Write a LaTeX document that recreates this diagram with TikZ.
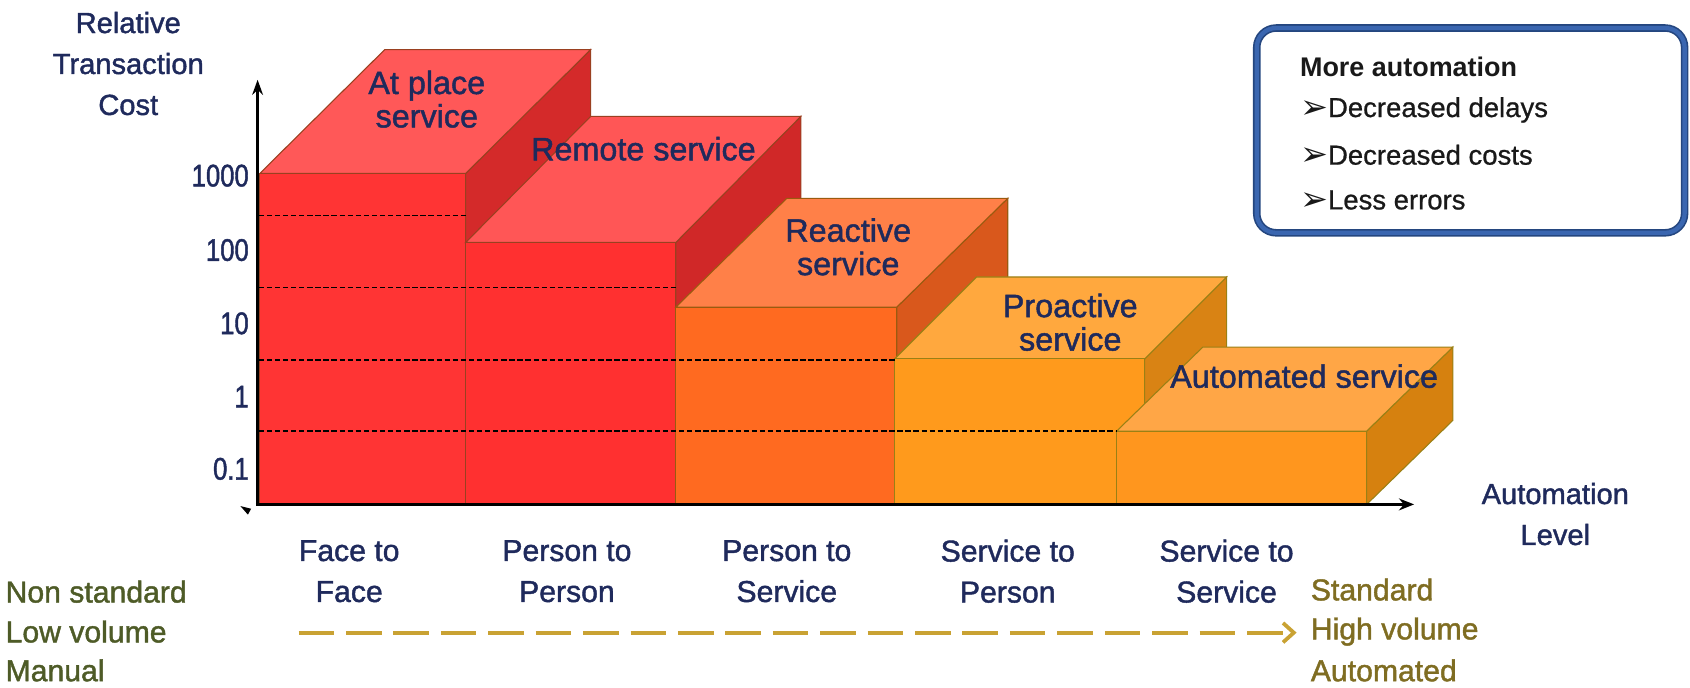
\documentclass[tikz,border=0pt]{standalone}
\usepackage{fontspec}
\setmainfont{Liberation Sans}
\newfontfamily\djv{DejaVu Sans}
\newfontfamily\labfont{Liberation Sans}[FakeBold=1.4]
\newfontfamily\tickfont{Liberation Sans}[FakeStretch=0.82,FakeBold=1.4]
\newfontfamily\legfont{Liberation Sans}[FakeBold=0.8]
\usetikzlibrary{arrows.meta}
\definecolor{navy}{HTML}{1F2A5C}
\definecolor{olivel}{HTML}{4E5B27}
\definecolor{oliver}{HTML}{7F6D22}
\definecolor{goldarr}{HTML}{C9A233}
\definecolor{legblue}{HTML}{3A66B0}
\definecolor{legdark}{HTML}{24467F}
\definecolor{fA}{HTML}{FF3434}\definecolor{tA}{HTML}{FF5858}\definecolor{sA}{HTML}{D42A2A}\definecolor{eA}{HTML}{9A4020}
\definecolor{fB}{HTML}{FF3030}\definecolor{tB}{HTML}{FF5656}\definecolor{sB}{HTML}{D02828}
\definecolor{fC}{HTML}{FF6A20}\definecolor{tC}{HTML}{FF8048}\definecolor{sC}{HTML}{D9581C}\definecolor{eC}{HTML}{9A5A10}
\definecolor{fD}{HTML}{FF9A1C}\definecolor{tD}{HTML}{FFA83E}\definecolor{sD}{HTML}{D98314}\definecolor{eD}{HTML}{9A8015}
\definecolor{fE}{HTML}{FF961E}\definecolor{tE}{HTML}{FFA646}\definecolor{sE}{HTML}{D6810F}
\newcommand\blk[9]{%
  \filldraw[fill=#8, draw=#9, line width=1] (#2,170) -- (#2,#3) -- ({#2+#4},{#3+#5}) -- ({#2+#4},{170+#5}) -- cycle;
  \filldraw[fill=#7, draw=#9, line width=1] (#1,#3) -- (#2,#3) -- ({#2+#4},{#3+#5}) -- ({#1+#4},{#3+#5}) -- cycle;
  \filldraw[fill=#6, draw=#9, line width=1] (#1,170) rectangle (#2,#3);
}
\tikzset{
  blabel/.style={text=navy, font=\labfont\fontsize{30}{31}\selectfont, align=center, inner sep=0},
  catlabel/.style={text=navy, font=\labfont\fontsize{28}{38}\selectfont, align=center, inner sep=0},
  axlabel/.style={text=navy, font=\labfont\fontsize{27}{38}\selectfont, align=center, inner sep=0},
  ticklabel/.style={text=navy, font=\tickfont\fontsize{29}{30}\selectfont, anchor=east, inner sep=0},
  leftlabel/.style={text=olivel, font=\labfont\fontsize{28}{30}\selectfont, anchor=west, inner sep=0},
  rightlabel/.style={text=oliver, font=\labfont\fontsize{28}{30}\selectfont, anchor=west, inner sep=0},
  legtext/.style={text=black!90, font=\legfont\fontsize{25.5}{28}\selectfont, anchor=west, inner sep=0},
  gridline/.style={black, line width=1.3, dash pattern=on 5 off 2.5},
}
\begin{document}
\begin{tikzpicture}[x=1pt,y=1pt]
\useasboundingbox (0,0) rectangle (1568,638);
% blocks
\blk{241}{432}{477}{116}{115}{fA}{tA}{sA}{eA}
\blk{432}{627}{413}{116}{117}{fB}{tB}{sB}{eA}
\blk{627}{832}{353}{103}{101}{fC}{tC}{sC}{eC}
\blk{830}{1062}{305}{76}{76}{fD}{tD}{sD}{eD}
\blk{1036}{1268}{238}{80}{78}{fE}{tE}{sE}{eD}
% dashed grid lines
\draw[gridline] (240,438) -- (432,438);
\draw[gridline] (240,371) -- (627,371);
\draw[gridline] (240,304) -- (830,304);
\draw[gridline] (240,238) -- (1036,238);
% axes
\coordinate (o) at (239,170);
\coordinate (ytip) at (239,564);
\coordinate (xtip) at (1312,170);
\draw[line width=2.3, -{Stealth[length=14,width=10]}] (o) -- (ytip);
\draw[line width=3, -{Stealth[length=14,width=11]}] (237.5,170) -- (xtip);
\fill (223,168.5) -- (233,166) -- (230,160.5) -- cycle;
% tick labels
\node[ticklabel] (t1000) at (231,475) {1000};
\node[ticklabel] (t100) at (231,406) {100};
\node[ticklabel] (t10) at (231,338) {10};
\node[ticklabel] (t1) at (231,270) {1};
\node[ticklabel] (t01) at (231,203) {0.1};
% axis labels
\node[axlabel] (ylab) at (119,579) {Relative\\Transaction\\Cost};
\node[axlabel] (xlab) at (1443,161) {Automation\\Level};
% block labels
\node[blabel] (b1) at (396,546) {At place\\service};
\node[blabel] (b2) at (597,500) {Remote service};
\node[blabel] (b3) at (787,409) {Reactive\\service};
\node[blabel] (b4) at (993,339) {Proactive\\service};
\node[blabel] (b5) at (1210,289) {Automated service};
% category labels
\node[catlabel] (c1) at (324,108) {Face to\\Face};
\node[catlabel] (c2) at (526,108) {Person to\\Person};
\node[catlabel] (c3) at (730,108) {Person to\\Service};
\node[catlabel] (c4) at (935,108) {Service to\\Person};
\node[catlabel] (c5) at (1138,108) {Service to\\Service};
% bottom left / right labels
\node[leftlabel] (l1) at (5,89) {Non standard};
\node[leftlabel] (l2) at (5,52) {Low volume};
\node[leftlabel] (l3) at (5,16) {Manual};
\node[rightlabel] (r1) at (1216,91) {Standard};
\node[rightlabel] (r2) at (1216,52) {High volume};
\node[rightlabel] (r3) at (1216,16) {Automated};
% dashed arrow
\coordinate (as) at (277,51);
\coordinate (ae) at (1203,51);
\draw[goldarr, line width=3.5, dash pattern=on 33 off 11, -{Straight Barb[length=10,width=18,line width=3.5]}] (as) -- (ae);
% legend
\draw[legdark, line width=7, rounded corners=18] (1166,422) rectangle (1563,612);
\draw[legblue, line width=4, rounded corners=18] (1166,422) rectangle (1563,612);
\node[legtext, font=\bfseries\fontsize{25}{28}\selectfont] (g0) at (1206,576) {More automation};
\node[legtext] (g1) at (1206,536) {\raisebox{-1pt}{\djv\fontsize{31}{31}\selectfont ➢}Decreased delays};
\node[legtext] (g2) at (1206,494) {\raisebox{-1pt}{\djv\fontsize{31}{31}\selectfont ➢}Decreased costs};
\node[legtext] (g3) at (1206,452) {\raisebox{-1pt}{\djv\fontsize{31}{31}\selectfont ➢}Less errors};
\end{tikzpicture}
\end{document}
